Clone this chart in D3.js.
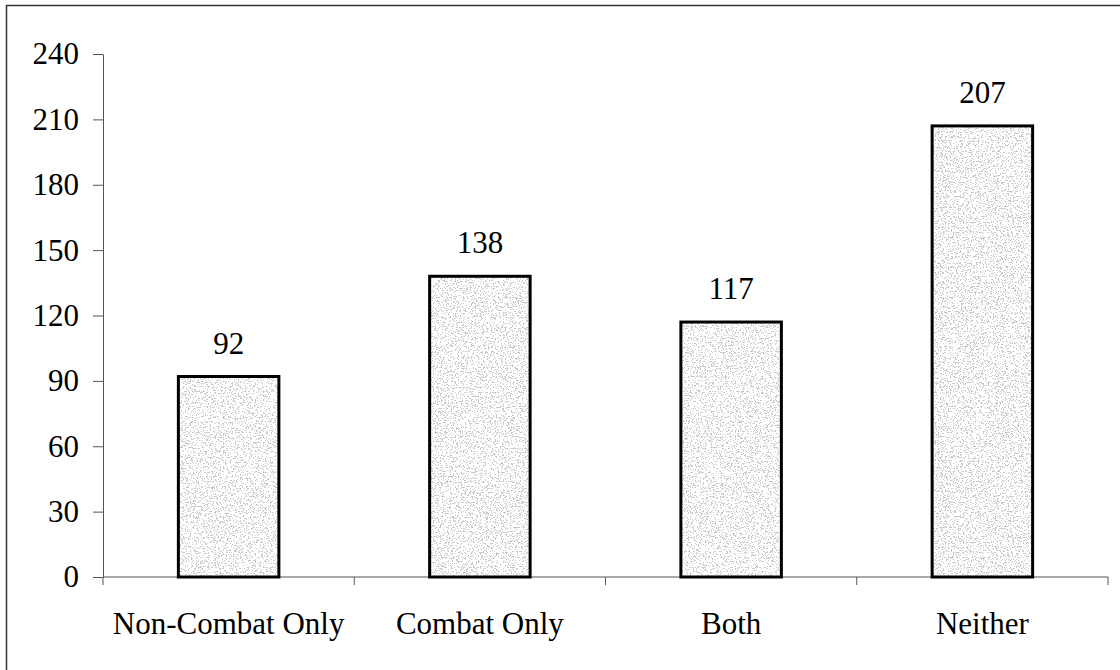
<!DOCTYPE html>
<meta charset="utf-8">
<style>
  body { margin: 0; background: #fff; }
  svg { display: block; }
  text { font-family: "Liberation Serif", "Times New Roman", serif; }
</style>
<svg width="1120" height="670"></svg>
<script src="https://d3js.org/d3.v7.min.js"></script>
<script>

var categories = ["Non-Combat Only", "Combat Only", "Both", "Neither"];
var counts = [92, 138, 117, 207];
var yTicks = [0, 30, 60, 90, 120, 150, 180, 210, 240];

var svg = d3.select("svg"),
    width = +svg.attr("width"),
    height = +svg.attr("height");

var serif = "Liberation Serif, Times New Roman, serif";
var margin = {top: 54, right: 12, bottom: 93, left: 103};

var x = d3.scaleBand()
    .domain(categories)
    .range([margin.left, width - margin.right])
    .paddingInner(0.6)
    .paddingOuter(0.3);

var y = d3.scaleLinear()
    .domain([0, 240])
    .range([height - margin.bottom, margin.top]);

// outer frame (top and left only)
svg.append("path")
    .attr("d", "M6.5," + height + "V5.5H" + width)
    .attr("fill", "none")
    .attr("stroke", "#333")
    .attr("stroke-width", 1.5);

// stippled grey texture, like the scanned bars
var defs = svg.append("defs");
var f = defs.append("filter")
    .attr("id", "stipple")
    .attr("x", 0).attr("y", 0).attr("width", 1).attr("height", 1);
f.append("feTurbulence")
    .attr("type", "fractalNoise")
    .attr("baseFrequency", "0.6 0.8")
    .attr("numOctaves", 4)
    .attr("seed", 7)
    .attr("result", "noise");
f.append("feColorMatrix")
    .attr("in", "noise")
    .attr("type", "matrix")
    .attr("values", "0 0 0 0 0.6  0 0 0 0 0.6  0 0 0 0 0.6  3 0 0 0 -1.25")
    .attr("result", "dots");
f.append("feComponentTransfer")
    .attr("in", "dots")
  .append("feFuncA")
    .attr("type", "discrete")
    .attr("tableValues", "0 1");

// y axis
var yAxis = svg.append("g")
    .attr("transform", "translate(" + margin.left + ",0)")
    .call(d3.axisLeft(y).tickValues(yTicks).tickSize(10).tickSizeOuter(0).tickPadding(14));

yAxis.select(".domain").attr("stroke", "#555");
yAxis.selectAll(".tick line").attr("stroke", "#555");
yAxis.selectAll(".tick text")
    .attr("font-size", 31)
    .attr("font-family", serif)
    .attr("fill", "#000");

// x axis, ticks on category boundaries
var xAxis = svg.append("g")
    .attr("transform", "translate(0," + y(0) + ")");
xAxis.append("line")
    .attr("x1", margin.left).attr("x2", width - margin.right)
    .attr("stroke", "#555");
var bounds = [margin.left].concat(categories.map(function(c) { return x(c) + x.step() * 0.7; }));
xAxis.selectAll(".bt")
    .data(bounds)
  .enter().append("line")
    .attr("class", "bt")
    .attr("x1", function(d) { return d; })
    .attr("x2", function(d) { return d; })
    .attr("y2", 8)
    .attr("stroke", "#555");
xAxis.selectAll(".cl")
    .data(categories)
  .enter().append("text")
    .attr("class", "cl")
    .attr("x", function(d) { return x(d) + x.bandwidth() / 2; })
    .attr("y", 57)
    .attr("text-anchor", "middle")
    .attr("font-size", 31)
    .attr("font-family", serif)
    .attr("fill", "#000")
    .text(function(d) { return d; });

// bars
var data = categories.map(function(c, i) { return {cat: c, value: counts[i]}; });

var bar = svg.selectAll(".bar")
    .data(data)
  .enter().append("g")
    .attr("class", "bar");

bar.append("rect")
    .attr("x", function(d) { return x(d.cat); })
    .attr("y", function(d) { return y(d.value); })
    .attr("width", x.bandwidth())
    .attr("height", function(d) { return y(0) - y(d.value); })
    .attr("fill", "#fff");

bar.append("rect")
    .attr("x", function(d) { return x(d.cat); })
    .attr("y", function(d) { return y(d.value); })
    .attr("width", x.bandwidth())
    .attr("height", function(d) { return y(0) - y(d.value); })
    .attr("fill", "#fff")
    .attr("filter", "url(#stipple)");

bar.append("rect")
    .attr("x", function(d) { return x(d.cat); })
    .attr("y", function(d) { return y(d.value); })
    .attr("width", x.bandwidth())
    .attr("height", function(d) { return y(0) - y(d.value); })
    .attr("fill", "none")
    .attr("stroke", "#000")
    .attr("stroke-width", 3);

bar.append("text")
    .attr("x", function(d) { return x(d.cat) + x.bandwidth() / 2; })
    .attr("y", function(d) { return y(d.value) - 23; })
    .attr("text-anchor", "middle")
    .attr("font-size", 31)
    .attr("font-family", serif)
    .attr("fill", "#000")
    .text(function(d) { return d.value; });

</script>
